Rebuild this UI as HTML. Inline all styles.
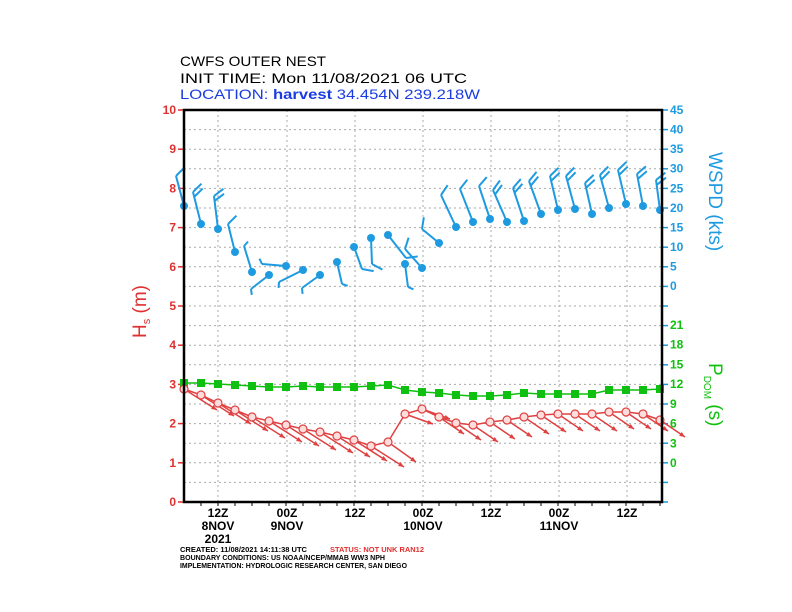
<!DOCTYPE html>
<html><head><meta charset="utf-8"><style>
html,body{margin:0;padding:0;background:#fff}
svg{display:block}
text{font-family:"Liberation Sans",sans-serif}
</style></head><body>
<svg id="s" width="792" height="612" viewBox="0 0 792 612" xmlns="http://www.w3.org/2000/svg">
<rect width="792" height="612" fill="#fff"/>
<g font-size="14" fill="#000">
<text x="180" y="66" textLength="146" lengthAdjust="spacingAndGlyphs">CWFS OUTER NEST</text>
<text x="180" y="83" textLength="287" lengthAdjust="spacingAndGlyphs">INIT TIME: Mon 11/08/2021 06 UTC</text>
<text x="180" y="99" textLength="300" lengthAdjust="spacingAndGlyphs" fill="#1a3ce0">LOCATION: <tspan font-weight="bold">harvest</tspan> 34.454N 239.218W</text>
</g>
<g id="grid" stroke="#aaa" stroke-width="1" stroke-dasharray="2,3"></g>
<g id="lt" font-size="12" fill="#e03030" text-anchor="end" font-weight="bold"></g>
<g id="rt" font-size="12" text-anchor="start" font-weight="bold"></g>
<g id="bt" font-size="12" fill="#000" text-anchor="middle" font-weight="bold">
<text x="218" y="517">12Z</text><text x="218" y="530">8NOV</text><text x="218" y="543">2021</text>
<text x="287" y="517">00Z</text><text x="287" y="530">9NOV</text>
<text x="355" y="517">12Z</text>
<text x="423" y="517">00Z</text><text x="423" y="530">10NOV</text>
<text x="491" y="517">12Z</text>
<text x="559" y="517">00Z</text><text x="559" y="530">11NOV</text>
<text x="627" y="517">12Z</text>
</g>
<text x="0" y="0" font-size="19" fill="#e03030" transform="translate(146,338) rotate(-90)">H<tspan font-size="11" dy="4">s</tspan><tspan dy="-4"> (m)</tspan></text>
<text x="0" y="0" font-size="19" fill="#1e9be0" transform="translate(709,152) rotate(90)">WSPD (kts)</text>
<text x="0" y="0" font-size="19" fill="#10c010" transform="translate(709,363) rotate(90)">P<tspan font-size="10" dy="5">DOM</tspan><tspan dy="-5"> (s)</tspan></text>
<g font-size="7" font-weight="bold">
<text x="180" y="552" fill="#000" textLength="127" lengthAdjust="spacingAndGlyphs">CREATED: 11/08/2021 14:11:38 UTC</text>
<text x="330" y="552" fill="#e03030" textLength="94" lengthAdjust="spacingAndGlyphs">STATUS: NOT UNK RAN12</text>
<text x="180" y="560" fill="#000" textLength="205" lengthAdjust="spacingAndGlyphs">BOUNDARY CONDITIONS: US NOAA/NCEP/MMAB WW3 NPH</text>
<text x="180" y="568" fill="#000" textLength="227" lengthAdjust="spacingAndGlyphs">IMPLEMENTATION: HYDROLOGIC RESEARCH CENTER, SAN DIEGO</text>
</g>
<g id="data"></g>
<rect x="184" y="110" width="478" height="392" fill="none" stroke="#000" stroke-width="2.5"/>
</svg>
<script>
var NS="http://www.w3.org/2000/svg";
function el(p,t,a){var e=document.createElementNS(NS,t);for(var k in a)e.setAttribute(k,a[k]);document.getElementById(p).appendChild(e);return e;}
function tx(p,x,y,s,a){var e=el(p,'text',Object.assign({x:x,y:y},a||{}));e.textContent=s;}
for(var i=1;i<20;i++){var y=110+i*19.6;el('grid','line',{x1:184,y1:y,x2:662,y2:y});}
[218,287,355,423,491,559,627].forEach(function(x){el('grid','line',{x1:x,y1:110,x2:x,y2:502});});
for(var v=0;v<=10;v++){var y=502-v*39.2;tx('lt',176,y+4,String(v));el('data','line',{x1:178,y1:y,x2:184,y2:y,stroke:'#e03030','stroke-width':1.5});}
for(var i=0;i<=20;i++){var y=110+i*19.6;el('data','line',{x1:662,y1:y,x2:668,y2:y,stroke:'#1e9be0','stroke-width':1.5});}
for(var w=0;w<=45;w+=5){var y=286-w*3.91;tx('rt',670,y+4,String(w),{fill:'#1e9be0'});}
for(var p=0;p<=21;p+=3){var y=463-p*6.57;tx('rt',670,y+4,String(p),{fill:'#10c010'});}
for(var x=201;x<662;x+=17){el('data','line',{x1:x,y1:502,x2:x,y2:506,stroke:'#000'});}
var X=[];for(var i=0;i<29;i++)X.push(184+i*17);
var P=[383,383,384,385,386,387,387,386,387,387,387,386,385,390,392,393,395,396,396,395,393,394,394,394,394,390,390,390,389];
el('data','polyline',{points:X.map(function(x,i){return x+','+P[i]}).join(' '),fill:'none',stroke:'#10c010','stroke-width':1.5});
X.forEach(function(x,i){el('data','rect',{x:x-4,y:P[i]-4,width:8,height:8,fill:'#10c010'});});
var H=[389,395,403,410,417,421,425,429,432,436,440,446,442,414,409,417,423,425,422,420,417,415,414,414,414,412,412,414,420];
X.forEach(function(x,i){var dx=i==13||i==14?28:(i<13?33:25),dy=i==13||i==14?10:(i<13?21:17);if(i==12){dx=28;dy=20;}
el('data','line',{x1:x,y1:H[i],x2:x+dx,y2:H[i]+dy,stroke:'#e04040','stroke-width':1.5});
var a=Math.atan2(dy,dx),ex=x+dx,ey=H[i]+dy;
el('data','polygon',{points:ex+','+ey+' '+(ex-6*Math.cos(a-0.4))+','+(ey-6*Math.sin(a-0.4))+' '+(ex-6*Math.cos(a+0.4))+','+(ey-6*Math.sin(a+0.4)),fill:'#e04040'});});
el('data','polyline',{points:X.map(function(x,i){return x+','+H[i]}).join(' '),fill:'none',stroke:'#e04040','stroke-width':1.5});
X.forEach(function(x,i){el('data','circle',{cx:x,cy:H[i],r:4,fill:'#fdd',stroke:'#e04040','stroke-width':1.2});});
var W=[206,224,229,252,272,275,266,270,275,262,247,238,235,264,268,243,227,222,219,222,221,214,210,209,214,208,204,206,210];
var D=[[-8,-30],[-8,-32],[-4,-33],[-7,-28],[-8,-26],[-18,14],[-24,-2],[-24,12],[-18,13],[5,22],[8,22],[1,26],[18,23],[3,23],[-17,-19],[-17,-14],[-15,-32],[-13,-33],[-11,-33],[-14,-32],[-11,-33],[-12,-33],[-8,-34],[-9,-33],[-7,-31],[-9,-33],[-8,-34],[-6,-32],[-4,-30]];
var NB=[1,2,2,1,0,0,0,0,0,0,1,1,1,0,1,1,1,1,1,2,2,2,2,2,2,2,2,2,2];
X.forEach(function(x,i){var y=W[i],d=D[i],tx_=x+d[0],ty=y+d[1];
el('data','line',{x1:x,y1:y,x2:tx_,y2:ty,stroke:'#1e9be0','stroke-width':2});
var L=Math.hypot(d[0],d[1]),ux=d[0]/L,uy=d[1]/L,px=-uy,py=ux;if(px<0){px=-px;py=-py;}
var n=NB[i]||0;var len=n?12:6;var nn=Math.max(n,1);
for(var b=0;b<nn;b++){var bx=tx_-ux*b*5,by=ty-uy*b*5;
el('data','line',{x1:bx,y1:by,x2:bx+px*len*0.85+ux*len*0.5,y2:by+py*len*0.85+uy*len*0.5,stroke:'#1e9be0','stroke-width':2});}
el('data','circle',{cx:x,cy:y,r:4,fill:'#1e9be0'});});
</script>
</body></html>
